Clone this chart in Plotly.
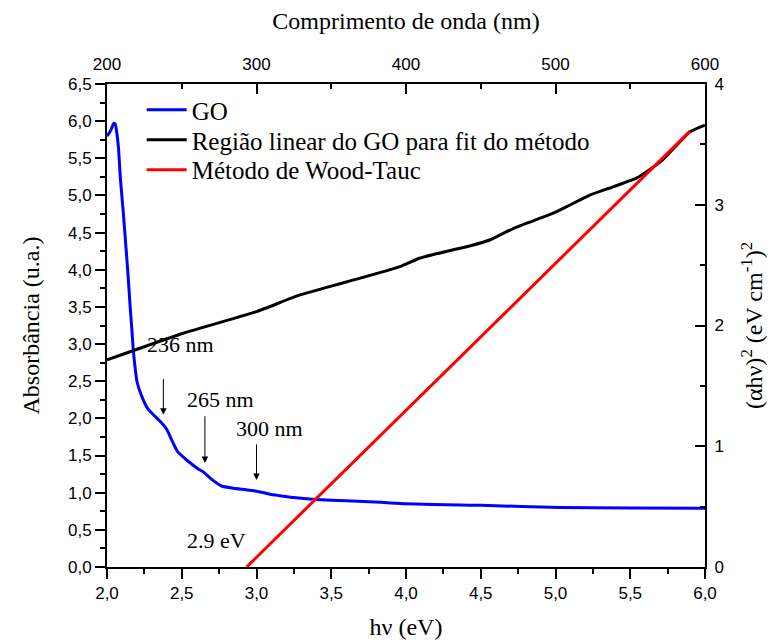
import plotly.graph_objects as go

# GO absorbance (left axis) vs photon energy (eV)
go_ev = [2.00, 2.015, 2.03, 2.045, 2.055, 2.065, 2.076, 2.09, 2.109, 2.125, 2.14, 2.155, 2.168,
         2.176, 2.19, 2.20, 2.232, 2.276, 2.32, 2.355, 2.40, 2.435, 2.47, 2.533, 2.61, 2.644,
         2.70, 2.767, 2.845, 2.93, 3.00, 3.05, 3.10, 3.157, 3.25, 3.40, 3.60, 3.83, 4.00, 4.36,
         4.50, 5.03, 5.50, 6.00]
go_abs = [5.80, 5.84, 5.90, 5.97, 5.96, 5.85, 5.66, 5.22, 4.77, 4.35, 3.95, 3.50, 3.15,
          2.92, 2.65, 2.50, 2.30, 2.12, 2.03, 1.96, 1.85, 1.70, 1.56, 1.44, 1.32, 1.28,
          1.18, 1.09, 1.06, 1.04, 1.02, 1.00, 0.975, 0.96, 0.935, 0.91, 0.89, 0.87, 0.85, 0.835,
          0.83, 0.80, 0.795, 0.79]

# (alpha h nu)^2 region used for the fit (right axis)
lin_ev = [2.00, 2.51, 3.00, 3.29, 3.60, 3.96, 4.09, 4.45, 4.56, 4.72, 4.985, 5.075, 5.23, 5.39,
          5.54, 5.61, 5.72, 5.90, 6.00]
lin_val = [1.715, 1.936, 2.115, 2.253, 2.36, 2.488, 2.557, 2.667, 2.708, 2.805, 2.93, 2.984, 3.08,
           3.15, 3.22, 3.274, 3.376, 3.605, 3.66]

# Wood-Tauc straight line (right axis)
tauc_ev = [2.934, 5.90]
tauc_val = [0.0, 3.61]

# top axis (wavelength) range
wl_range = [200, 600]

# labelled arrows: (text, arrow x, arrow tail y, arrow head y, text x, text y)
peaks = [
    ("236 nm", 2.377, 2.55, 2.05, 2.49, 2.99),
    ("265 nm", 2.655, 2.05, 1.40, 2.76, 2.26),
    ("300 nm", 3.000, 1.67, 1.17, 3.09, 1.86),
]
gap_label = ("2.9 eV", 2.73, 0.36)

serif = "Liberation Serif, Times New Roman, serif"
sans = "Liberation Sans, Arial, sans-serif"

fig = go.Figure()
fig.add_trace(go.Scatter(x=go_ev, y=go_abs, mode="lines", name="GO",
                         line=dict(color="#0000ff", width=3, shape="spline", smoothing=0.6),
                         xaxis="x", yaxis="y", legend="legend"))
fig.add_trace(go.Scatter(x=lin_ev, y=lin_val, mode="lines",
                         name="Região linear do GO para fit do método",
                         line=dict(color="#000000", width=3, shape="spline", smoothing=0.5),
                         xaxis="x", yaxis="y2", legend="legend2"))
fig.add_trace(go.Scatter(x=tauc_ev, y=tauc_val, mode="lines", name="Método de Wood-Tauc",
                         line=dict(color="#ff0000", width=3), xaxis="x", yaxis="y2",
                         legend="legend3"))
# invisible trace to anchor the top wavelength axis
fig.add_trace(go.Scatter(x=wl_range, y=[None, None], mode="lines", showlegend=False,
                         hoverinfo="skip", xaxis="x2", yaxis="y"))

annotations = []
for txt, ax_x, tail_y, head_y, tx, ty in peaks:
    annotations.append(dict(x=ax_x, y=head_y, ax=ax_x, ay=tail_y, xref="x", yref="y",
                            axref="x", ayref="y", text="", showarrow=True,
                            arrowhead=2, arrowsize=1.3, arrowwidth=1, arrowcolor="black"))
    annotations.append(dict(x=tx, y=ty, xref="x", yref="y", text=txt, showarrow=False,
                            font=dict(family=serif, size=22, color="black")))
annotations.append(dict(x=gap_label[1], y=gap_label[2], xref="x", yref="y", text=gap_label[0],
                        showarrow=False, font=dict(family=serif, size=22, color="black")))

tickfont = dict(family=sans, size=17, color="black")
titlefont = dict(family=serif, size=24, color="black")
legfont = dict(family=serif, size=25, color="black")


def leg(y):
    return dict(x=0.058, y=y, xanchor="left", yanchor="middle",
                bgcolor="rgba(0,0,0,0)", borderwidth=0, font=legfont, itemwidth=40)


fig.update_layout(
    width=767, height=633,
    margin=dict(l=99, r=70, t=76, b=74),
    paper_bgcolor="white", plot_bgcolor="white",
    separators=",.",
    showlegend=True,
    legend=leg(0.946),
    legend2=leg(0.884),
    legend3=leg(0.822),
    annotations=annotations,
    xaxis=dict(range=[2.0, 6.0], dtick=0.5, tick0=2.0, tickformat=".1f", automargin=False,
               ticks="outside", ticklen=10, tickwidth=1.5, tickcolor="black",
               showline=True, linecolor="black", linewidth=2, showgrid=False, zeroline=False,
               minor=dict(dtick=0.25, ticks="outside", ticklen=5, tickwidth=1.5, tickcolor="black"),
               tickfont=tickfont,
               title=dict(text="hν (eV)", font=titlefont, standoff=16)),
    xaxis2=dict(range=wl_range, overlaying="x", side="top", anchor="y", dtick=100,
                automargin=False,
                ticks="inside", ticklen=10, tickwidth=1.5, tickcolor="black",
                showline=True, linecolor="black", linewidth=2, showgrid=False, zeroline=False,
                minor=dict(dtick=50, ticks="inside", ticklen=5, tickwidth=1.5, tickcolor="black"),
                tickfont=tickfont, ticklabelstandoff=5,
                title=dict(text="Comprimento de onda (nm)", font=titlefont, standoff=20)),
    yaxis=dict(range=[0, 6.5], dtick=0.5, tick0=0, tickformat=".1f", automargin=False,
               ticks="outside", ticklen=10, tickwidth=1.5, tickcolor="black",
               showline=True, linecolor="black", linewidth=2, showgrid=False, zeroline=False,
               minor=dict(dtick=0.25, ticks="outside", ticklen=5, tickwidth=1.5, tickcolor="black"),
               tickfont=tickfont,
               title=dict(text="Absorbância (u.a.)", font=titlefont, standoff=22)),
    yaxis2=dict(range=[0, 4], dtick=1, overlaying="y", side="right", anchor="x",
                automargin=False,
                ticks="inside", ticklen=10, tickwidth=1.5, tickcolor="black",
                showline=True, linecolor="black", linewidth=2, showgrid=False, zeroline=False,
                minor=dict(dtick=0.5, ticks="inside", ticklen=5, tickwidth=1.5, tickcolor="black"),
                tickfont=tickfont, ticklabelstandoff=4,
                title=dict(text="(αhν)<sup>2</sup> (eV cm<sup>-1</sup>)<sup>2</sup>",
                           font=titlefont, standoff=22)),
)

fig.write_html("out.html")
